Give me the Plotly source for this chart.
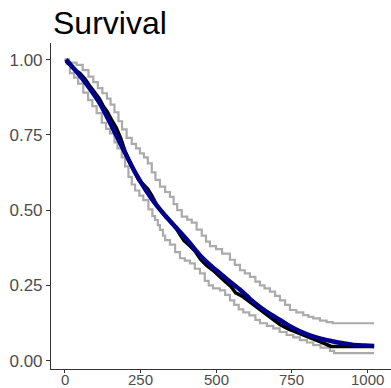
import plotly.graph_objects as go

# Upper confidence bound (step)
upper_t = [0, 15, 40, 60, 79, 95, 110, 125, 140, 152, 165, 178, 190, 205, 222, 236, 249, 262, 275, 288,
           300, 315, 332, 348, 360, 372, 387, 405, 420, 436, 453, 467, 480, 500, 520, 546, 562, 579, 595,
           612, 630, 645, 660, 678, 695, 711, 728, 744, 765, 788, 805, 821, 843, 865, 885, 1022]
upper_s = [1.0, 0.99, 0.982, 0.965, 0.943, 0.925, 0.905, 0.888, 0.87, 0.85, 0.825, 0.795, 0.768, 0.74,
           0.72, 0.705, 0.688, 0.675, 0.655, 0.625, 0.6, 0.578, 0.56, 0.544, 0.52, 0.5, 0.478, 0.468,
           0.458, 0.435, 0.415, 0.395, 0.38, 0.37, 0.355, 0.335, 0.318, 0.3, 0.29, 0.278, 0.262, 0.25,
           0.24, 0.229, 0.215, 0.2, 0.185, 0.168, 0.16, 0.151, 0.145, 0.14, 0.133, 0.128, 0.124, 0.124]

# Lower confidence bound (step)
lower_t = [0, 7, 18, 32, 45, 62, 78, 92, 106, 123, 137, 150, 165, 175, 189, 200, 211, 222, 233, 247,
           260, 277, 290, 299, 308, 315, 325, 332, 348, 365, 381, 397, 414, 430, 447, 463, 476, 490,
           513, 530, 546, 560, 575, 590, 610, 630, 645, 668, 689, 710, 733, 755, 777, 800, 821, 845,
           876, 890, 1022]
lower_s = [1.0, 0.985, 0.955, 0.94, 0.92, 0.89, 0.865, 0.845, 0.822, 0.79, 0.77, 0.755, 0.725, 0.705,
           0.675, 0.645, 0.61, 0.585, 0.565, 0.548, 0.533, 0.502, 0.48, 0.467, 0.45, 0.434, 0.415, 0.4,
           0.385, 0.36, 0.34, 0.332, 0.323, 0.305, 0.29, 0.265, 0.25, 0.24, 0.233, 0.218, 0.2, 0.185,
           0.17, 0.16, 0.15, 0.135, 0.124, 0.115, 0.107, 0.095, 0.085, 0.077, 0.068, 0.06, 0.051,
           0.043, 0.032, 0.025, 0.025]

# Kaplan-Meier estimate
km_t = [5, 20, 35, 50, 68, 85, 100, 115, 128, 142, 155, 170, 185, 200, 215, 230, 245, 260, 275, 290,
        305, 320, 335, 350, 365, 380, 395, 410, 430, 450, 470, 490, 510, 530, 550, 565, 585, 605, 625,
        645, 665, 690, 711, 740, 777, 810, 845, 880, 1022]
km_s = [0.995, 0.98, 0.965, 0.955, 0.935, 0.91, 0.89, 0.87, 0.845, 0.825, 0.8, 0.775, 0.74, 0.695,
        0.66, 0.63, 0.6, 0.585, 0.57, 0.545, 0.515, 0.495, 0.478, 0.462, 0.445, 0.42, 0.398, 0.385,
        0.365, 0.335, 0.315, 0.3, 0.28, 0.263, 0.245, 0.225, 0.215, 0.2, 0.185, 0.17, 0.152, 0.135,
        0.12, 0.104, 0.09, 0.075, 0.062, 0.047, 0.047]

# Smooth fitted curve
fit_t = [5, 60, 116, 171, 200, 233, 266, 299, 332, 365, 403, 447, 480, 513, 546, 579, 612, 645, 678,
         711, 744, 777, 810, 843, 876, 909, 950, 990, 1022]
fit_s = [1.0, 0.935, 0.855, 0.748, 0.69, 0.625, 0.57, 0.522, 0.482, 0.445, 0.403, 0.35, 0.318, 0.29,
         0.262, 0.236, 0.205, 0.178, 0.155, 0.135, 0.114, 0.097, 0.084, 0.074, 0.066, 0.059, 0.053,
         0.05, 0.048]

x_ticks = [0, 250, 500, 750, 1000]
x_tick_labels = ["0", "250", "500", "750", "1000"]
y_ticks = [0.0, 0.25, 0.5, 0.75, 1.0]
y_tick_labels = ["0.00", "0.25", "0.50", "0.75", "1.00"]

fig = go.Figure()
fig.add_trace(go.Scatter(x=upper_t, y=upper_s, mode="lines", line=dict(color="#ABABAB", width=2.2, shape="hv"), hoverinfo="skip"))
fig.add_trace(go.Scatter(x=lower_t, y=lower_s, mode="lines", line=dict(color="#ABABAB", width=2.2, shape="hv"), hoverinfo="skip"))
fig.add_trace(go.Scatter(x=km_t, y=km_s, mode="lines", line=dict(color="black", width=3.5, shape="linear")))
fig.add_trace(go.Scatter(x=fit_t, y=fit_s, mode="lines", line=dict(color="#00008B", width=4.5, shape="spline", smoothing=0.6)))

font_family = "Liberation Sans, Arial, Helvetica, sans-serif"
annotations = [dict(text="Survival", x=0, y=1.0, xref="paper", yref="paper",
                    xanchor="left", yanchor="bottom", showarrow=False,
                    font=dict(size=32, color="black", family=font_family))]
for v, lab in zip(x_ticks, x_tick_labels):
    annotations.append(dict(text=lab, x=v, y=-0.003, xref="x", yref="paper", xanchor="center",
                            yanchor="top", showarrow=False, borderpad=0,
                            font=dict(size=15, color="#4D4D4D", family=font_family)))

fig.update_layout(
    width=391, height=388,
    margin=dict(l=51, r=0, t=43, b=19, pad=0),
    paper_bgcolor="white", plot_bgcolor="white",
    showlegend=False,
    font=dict(family=font_family),
    annotations=annotations,
)
fig.update_xaxes(range=[-44.6, 1077.6], tickvals=x_ticks, showticklabels=False, ticks="outside", ticklen=3,
                 tickcolor="#333333", showline=True, linecolor="#333333", linewidth=1.1, showgrid=False,
                 zeroline=False, automargin=False)
fig.update_yaxes(range=[-0.028, 1.055], tickvals=y_ticks, ticktext=y_tick_labels, ticks="outside", ticklen=4,
                 tickcolor="#333333", showline=True, linecolor="#333333", linewidth=1.1, showgrid=False,
                 zeroline=False, tickfont=dict(size=17, color="#4D4D4D"), automargin=False)

fig.write_html("out.html")
